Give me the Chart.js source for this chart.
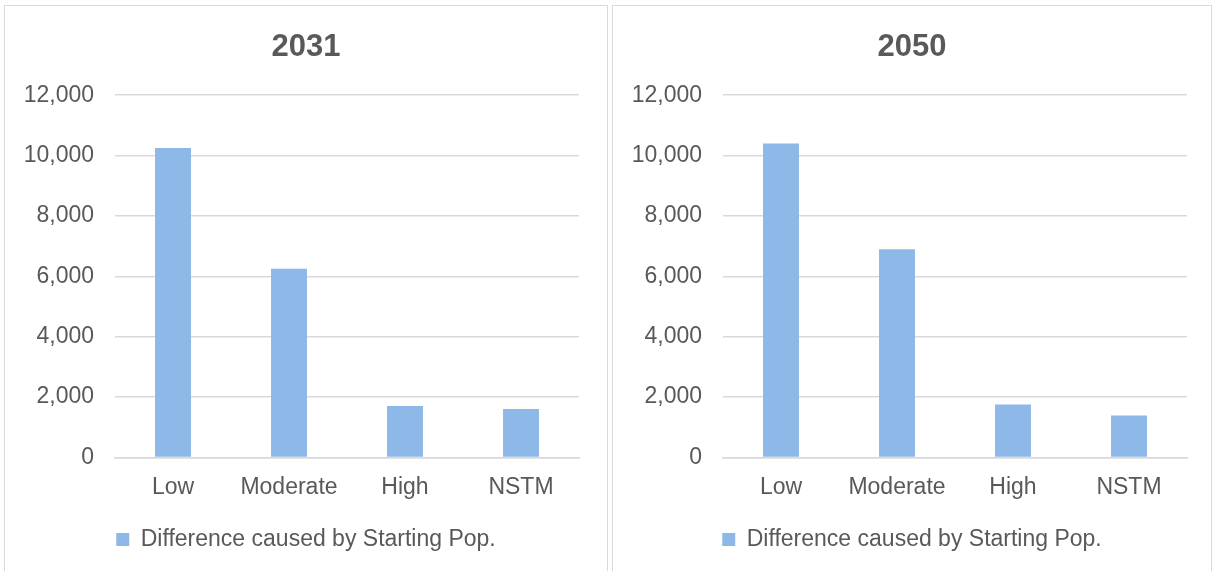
<!DOCTYPE html>
<html lang="en">
<head>
  <meta charset="UTF-8">
  <title>Difference caused by Starting Pop.</title>
  <script src="https://cdn.jsdelivr.net/npm/chart.js"></script>
  <style>
    body { margin: 0; background: #fff; width: 1214px; height: 571px; overflow: hidden; position: relative; }
    .panel { position: absolute; top: 5px; height: 580px; border: 1px solid #d9d9d9; box-sizing: border-box; }
    .panel canvas { position: absolute; left: 0; top: 0; }
  </style>
</head>
<body>
  <div class="panel" style="left:4px; width:604px;"><canvas id="chart2031" width="602" height="565"></canvas></div>
  <div class="panel" style="left:612px; width:600px;"><canvas id="chart2050" width="598" height="565"></canvas></div>

  <script>
    const categories = ['Low', 'Moderate', 'High', 'NSTM'];
    const values2031 = [10250, 6250, 1700, 1600];
    const values2050 = [10400, 6900, 1750, 1390];
    const seriesLabel = 'Difference caused by Starting Pop.';

    const textColor = '#595959';
    const gridColor = '#d9d9d9';
    const barColor = '#8eb8e8';
    const fontFamily = '"Liberation Sans", Arial, sans-serif';

    function makeChart(id, title, values, rightGap) {
      new Chart(document.getElementById(id), {
        type: 'bar',
        data: {
          labels: categories,
          datasets: [{
            label: seriesLabel,
            data: values,
            backgroundColor: barColor,
            categoryPercentage: 1,
            barPercentage: 0.31
          }]
        },
        options: {
          responsive: false,
          animation: false,
          layout: { padding: { left: 0, right: 0, top: 0, bottom: 10 } },
          plugins: {
            title: {
              display: true,
              text: title,
              color: textColor,
              font: { family: fontFamily, size: 31, weight: 'bold' },
              padding: { top: 23, bottom: 29 }
            },
            legend: {
              position: 'bottom',
              labels: {
                color: textColor,
                font: { family: fontFamily, size: 23 },
                boxWidth: 13,
                boxHeight: 13,
                padding: 10
              }
            },
            tooltip: { enabled: false }
          },
          scales: {
            x: {
              grid: { display: false, drawTicks: false },
              border: { color: gridColor, width: 1.5 },
              ticks: { color: textColor, font: { family: fontFamily, size: 23 }, padding: 16.5 }
            },
            y: {
              min: 0,
              max: 12000,
              ticks: { stepSize: 2000, color: textColor, font: { family: fontFamily, size: 23 }, padding: 21 },
              grid: { color: gridColor, lineWidth: 1.5, drawTicks: false },
              border: { display: false },
              afterFit: (scale) => { scale.width = 110; }
            },
            // empty right axis, only to keep the gap at the right of the plot
            gap: {
              type: 'linear',
              position: 'right',
              ticks: { display: false },
              grid: { display: false, drawTicks: false },
              border: { display: false },
              afterFit: (scale) => { scale.width = rightGap; }
            }
          }
        }
      });
    }

    makeChart('chart2031', '2031', values2031, 28);
    makeChart('chart2050', '2050', values2050, 24);
  </script>
</body>
</html>
